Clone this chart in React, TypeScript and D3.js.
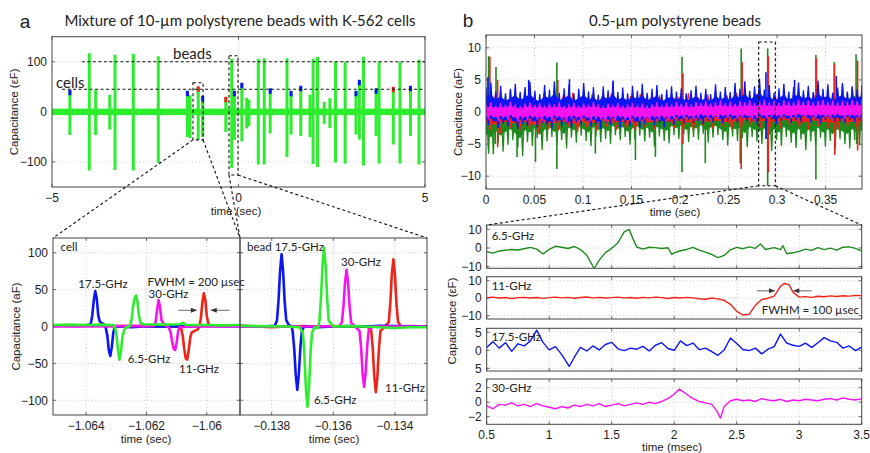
import { useEffect, useRef } from "react";
import * as d3 from "d3";

const W = 870;
const H = 453;
const SANS = "'Liberation Sans', Arial, sans-serif";
const CAL = "Lato, 'Open Sans', sans-serif";

const GREEN_A = "#2eec2e";
const GREEN_B = "#1e8a1e";
const RED = "#ee2418";
const BLUE = "#0b16f2";
const MAGENTA = "#f414f0";

// ---- panel a, overview: one bipolar spike per particle ----
const evT = [-4.52, -4.0, -3.83, -3.45, -3.31, -2.82, -2.15, -1.37, -1.3, -1.08, -0.96, -0.34, -0.18, -0.11, 0.09, 0.22, 0.28, 0.53, 0.69, 0.85, 1.3, 1.41, 1.67, 1.92, 2.0, 2.12, 2.3, 2.45, 2.6, 2.86, 3.15, 3.24, 3.35, 3.69, 3.77, 4.15, 4.33, 4.61, 4.84];
const evUp = [42, 117, 44, 34, 114, 116, 111, 40, 33, 49, 30, 28, 106, 40, 56, 28, 24, 106, 107, 45, 107, 40, 50, 34, 106, 110, 20, 27, 100, 100, 40, 62, 110, 45, 100, 48, 100, 50, 104];
const evDown = [-46, -117, -46, -35, -116, -117, -102, -50, -52, -56, -50, -40, -112, -56, -59, -33, -28, -105, -105, -43, -90, -45, -48, -50, -104, -110, -24, -32, -101, -103, -45, -55, -107, -48, -103, -65, -103, -48, -105];
const evCap = ["b", "", "", "", "", "", "", "b", "", "r", "b", "r", "", "b", "b", "", "", "", "", "b", "", "b", "b", "", "", "", "", "", "", "", "b", "b", "", "b", "", "r", "", "b", ""];

const aTopXTicks = [-5, 0, 5];
const aTopYTicks = [-100, 0, 100];

// ---- panel a, zoomed events ----
const cellBlue = [[-1.0651, 0.5], [-1.0647, 1.5], [-1.0643, 0.8], [-1.064, 1.2], [-1.06385, 3], [-1.0638, 14], [-1.06375, 35], [-1.0637, 48], [-1.06365, 38], [-1.0636, 15], [-1.06355, 7], [-1.0635, 5], [-1.06345, 4], [-1.0634, 2], [-1.06335, -2], [-1.0633, -12], [-1.06325, -32], [-1.0632, -40], [-1.06315, -28], [-1.0631, -8], [-1.06305, -1], [-1.0629, 0], [-1.0625, -1], [-1.062, 0.5], [-1.0615, 0], [-1.061, 0.5], [-1.0605, 0], [-1.0601, 1], [-1.0595, 0.5], [-1.0589, 0.5]];
const cellGreen = [[-1.0651, 2], [-1.0645, 2.5], [-1.064, 2], [-1.0635, 2.5], [-1.0631, 2], [-1.06305, 0], [-1.063, -10], [-1.06295, -30], [-1.0629, -45], [-1.06285, -35], [-1.0628, -15], [-1.06275, -6], [-1.0627, -2], [-1.0626, 0], [-1.06255, 1], [-1.0625, 8], [-1.06245, 25], [-1.0624, 38], [-1.06235, 42], [-1.0623, 34], [-1.06225, 15], [-1.0622, 5], [-1.0621, 3], [-1.0615, 2.5], [-1.0609, 3], [-1.06078, 5], [-1.0607, 2], [-1.06, 2], [-1.0595, 1.5], [-1.0589, 2]];
const cellMagenta = [[-1.0651, 0], [-1.064, 0], [-1.063, 0.5], [-1.062, 0.5], [-1.06175, 1], [-1.0617, 5], [-1.06165, 22], [-1.0616, 36], [-1.06155, 26], [-1.0615, 8], [-1.0614, 2], [-1.0613, 0], [-1.06125, -2], [-1.0612, -8], [-1.06115, -20], [-1.0611, -30], [-1.06105, -32], [-1.061, -22], [-1.06095, -6], [-1.0609, -1], [-1.0605, 0], [-1.0595, 0], [-1.0589, 0]];
const cellRed = [[-1.0651, 1.5], [-1.0645, 1], [-1.064, 1.5], [-1.063, 0.5], [-1.062, 0.5], [-1.0612, 0], [-1.0609, -0.5], [-1.06085, -3], [-1.0608, -12], [-1.06075, -30], [-1.0607, -43], [-1.06065, -45], [-1.0606, -32], [-1.06055, -15], [-1.0605, -8], [-1.0604, -6], [-1.0603, -4], [-1.06025, 0], [-1.0602, 10], [-1.06015, 32], [-1.0601, 45], [-1.06005, 36], [-1.06, 14], [-1.05995, 4], [-1.0599, 1], [-1.0595, 1.5], [-1.0592, 1], [-1.0589, 1.5]];

const beadBlue = [[-0.13903, 0.5], [-0.1383, 0], [-0.1379, 1], [-0.13783, 8], [-0.13778, 35], [-0.13773, 75], [-0.13768, 98], [-0.13763, 74], [-0.13758, 34], [-0.13753, 9], [-0.13745, 2], [-0.13735, 0], [-0.13732, -7], [-0.13727, -30], [-0.13722, -66], [-0.13717, -86], [-0.13712, -64], [-0.13707, -28], [-0.13702, -6], [-0.13695, 0], [-0.1365, -1], [-0.136, 0], [-0.1355, 0.5], [-0.135, 0], [-0.1345, 1], [-0.134, 0.5], [-0.13296, 0]];
const beadGreen = [[-0.13903, 1], [-0.1385, 0.5], [-0.1375, 0], [-0.1371, -1], [-0.13699, -8], [-0.13694, -38], [-0.13689, -84], [-0.13684, -109], [-0.13679, -82], [-0.13674, -36], [-0.13669, -8], [-0.1366, -1], [-0.1365, -2], [-0.13645, 8], [-0.1364, 40], [-0.13635, 84], [-0.1363, 107], [-0.13625, 82], [-0.1362, 38], [-0.13615, 8], [-0.136, 0], [-0.1355, 0.5], [-0.135, 0], [-0.1345, -1], [-0.134, -2], [-0.1335, -1], [-0.13296, -1]];
const beadMagenta = [[-0.13903, 0], [-0.1365, 0], [-0.1358, 0.5], [-0.13572, 6], [-0.13567, 28], [-0.13562, 60], [-0.13557, 77], [-0.13552, 58], [-0.13547, 26], [-0.13542, 5], [-0.1353, 0], [-0.13515, -6], [-0.1351, -28], [-0.13505, -64], [-0.135, -82], [-0.13495, -62], [-0.1349, -26], [-0.13485, -5], [-0.1347, 0], [-0.13296, 0]];
const beadRed = [[-0.13903, 1], [-0.1385, 0], [-0.138, -1], [-0.1375, 0], [-0.137, 0.5], [-0.1365, 0], [-0.136, 0.5], [-0.1355, 0], [-0.1349, 0], [-0.13477, -6], [-0.13472, -30], [-0.13467, -68], [-0.13462, -89], [-0.13457, -68], [-0.13452, -30], [-0.13447, -6], [-0.13435, -1], [-0.1342, 6], [-0.13415, 32], [-0.1341, 72], [-0.13405, 91], [-0.134, 70], [-0.13395, 30], [-0.1339, 6], [-0.1338, 0], [-0.1335, 0.5], [-0.13296, 0]];

const cellXTicks = [-1.064, -1.062, -1.06];
const beadXTicks = [-0.138, -0.136, -0.134];
const zoomYTicks = [-100, -50, 0, 50, 100];

// ---- panel b, 0.5 um beads: noise envelopes (aF) sampled evenly over the record ----
const blueHi = [3.8, 4.6, 3.2, 4.1, 2.9, 3.6, 4.4, 3.1, 3.9, 4.7, 3.3, 2.8, 4.2, 3.5, 4.8, 3.0, 3.7, 4.3, 2.9, 3.6, 4.5, 3.2, 3.9, 2.7, 4.0, 3.4, 4.6, 3.1, 3.8, 2.9, 4.1, 3.3, 4.4, 3.0, 3.6, 4.2, 2.8, 3.5, 4.0, 3.2, 3.7, 2.9, 3.4, 4.1, 3.0, 3.6, 2.8, 4.3, 3.2, 3.9, 3.1, 4.5, 3.6, 4.8, 3.3, 4.0, 5.2, 3.5, 4.2, 3.0, 3.7, 4.4, 3.2, 3.9, 4.6, 3.4, 4.1, 3.1, 4.9, 3.6, 4.3, 3.0, 3.8, 4.5, 3.2, 4.0, 3.5, 4.2];
const blueLo = [-2.1, -1.6, -2.5, -1.8, -2.3, -1.4, -2.7, -1.9, -2.2, -1.5, -2.4, -1.7, -2.0, -2.6, -1.5, -2.2, -1.8, -2.5, -1.6, -2.1, -1.4, -2.3, -1.9, -2.6, -1.7, -2.0, -1.5, -2.4, -1.8, -2.2, -1.6, -2.5, -1.9, -1.4, -2.1, -1.7, -2.4, -1.5, -2.0, -1.3, -1.8, -1.2, -1.7, -1.4, -1.9, -1.3, -1.6, -1.1, -1.8, -1.4, -1.2, -1.7, -1.0, -1.5, -1.3, -1.8, -1.1, -1.6, -1.2, -1.9, -1.4, -1.1, -1.7, -1.3, -1.5, -1.0, -1.6, -1.2, -1.8, -1.3, -1.1, -1.5, -1.4, -1.7, -1.2, -1.6, -1.3, -1.5];
const greenHi = [2.6, 3.4, 2.2, 3.0, 2.5, 3.3, 2.1, 2.8, 3.5, 2.4, 2.9, 2.2, 3.1, 2.6, 3.6, 2.3, 2.8, 3.2, 2.1, 2.7, 3.4, 2.5, 2.9, 2.2, 3.1, 2.6, 3.3, 2.4, 2.8, 2.1, 3.0, 2.5, 3.2, 2.3, 2.7, 3.1, 2.2, 2.6, 2.9, 2.4, 2.8, 2.1, 2.6, 3.0, 2.3, 2.7, 2.2, 3.1, 2.5, 2.9, 2.4, 3.2, 2.7, 3.4, 2.5, 3.0, 3.6, 2.6, 3.1, 2.4, 2.9, 3.3, 2.6, 3.0, 3.5, 2.7, 3.2, 2.5, 3.6, 2.8, 3.9, 2.6, 3.4, 4.2, 2.9, 3.8, 4.4, 3.6];
const greenLo = [-5.8, -6.6, -4.9, -6.2, -5.1, -4.4, -5.6, -6.9, -4.7, -5.3, -4.1, -5.9, -4.6, -3.9, -5.2, -4.4, -5.7, -4.0, -4.8, -3.7, -4.5, -5.3, -3.9, -4.7, -4.2, -5.0, -3.6, -4.4, -3.9, -5.1, -4.3, -3.7, -4.6, -4.0, -5.4, -3.8, -4.5, -4.9, -3.6, -4.2, -3.5, -4.7, -3.9, -4.3, -3.4, -4.8, -4.0, -3.6, -4.4, -5.2, -3.8, -4.5, -4.1, -5.5, -3.9, -4.6, -5.0, -4.2, -6.1, -4.4, -5.3, -3.9, -4.8, -5.6, -4.3, -5.9, -4.6, -5.1, -4.0, -5.4, -4.5, -5.8, -4.2, -5.0, -5.7, -4.4, -5.2, -4.8];
const redHi = [2.4, 2.9, 2.1, 2.7, 3.1, 2.3, 2.8, 2.0, 2.6, 3.0, 2.2, 2.7, 2.4, 2.9, 2.1, 2.5, 2.8, 2.2, 2.6, 2.0, 2.4, 2.9, 2.3, 2.7, 2.1, 2.6, 3.0, 2.4, 2.8, 2.2, 2.7, 2.5, 3.1, 2.3, 2.8, 2.6, 3.0, 2.4, 2.9, 2.7];
const redLo = [-2.8, -3.3, -2.5, -3.0, -2.6, -3.4, -2.7, -2.9, -2.4, -3.1, -2.6, -2.9, -2.3, -2.8, -2.5, -3.0, -2.4, -2.7, -2.2, -2.6, -2.3, -2.8, -2.1, -2.5, -2.2, -2.7, -2.4, -2.0, -2.5, -2.3, -2.6, -2.1, -2.4, -2.7, -2.2, -2.5, -2.8, -2.3, -2.6, -2.4];
const magHi = [1.2, 1.5, 1.0, 1.4, 1.1, 1.6, 1.2, 0.9, 1.3, 1.5, 1.1, 1.4, 1.0, 1.3, 1.2, 1.5, 0.9, 1.2, 1.4, 1.0, 1.3, 1.1, 1.5, 1.2, 0.9, 1.3, 1.1, 1.4, 1.0, 1.2, 1.4, 1.1, 1.3, 1.0, 1.2, 1.5, 1.1, 1.4, 1.2, 1.6, 1.3, 1.5, 1.2, 1.6, 1.4, 1.7, 1.3, 1.5, 1.8, 1.4, 1.6, 1.3, 1.7, 1.5, 1.8, 1.4, 1.6, 1.9, 1.5, 1.7, 1.4, 1.8, 1.6, 1.5, 1.9, 1.6, 1.8, 1.5, 1.7, 1.9, 1.6, 1.8, 1.5, 1.7, 1.6, 1.9, 1.7, 1.8];
const magLo = [-1.2, -0.9, -1.4, -1.0, -1.3, -0.8, -1.5, -1.1, -1.3, -0.9, -1.2, -1.4, -1.0, -1.3, -0.9, -1.2, -1.5, -1.1, -1.0, -1.3, -0.9, -1.4, -1.1, -1.2, -1.5, -1.0, -1.3, -0.9, -1.2, -1.4, -1.0, -1.3, -1.1, -1.4, -0.9, -1.2, -1.0, -1.3, -1.1, -0.8, -1.0, -0.7, -1.1, -0.9, -0.6, -1.0, -0.8, -1.1, -0.7, -0.9, -0.6, -1.0, -0.8, -0.7, -1.1, -0.9, -0.6, -1.0, -0.8, -0.7, -0.9, -0.6, -1.0, -0.8, -0.5, -0.9, -0.7, -1.0, -0.6, -0.8, -0.9, -0.7, -0.6, -1.0, -0.8, -0.7, -0.9, -0.6];
const greenSpikes = [[0.0027, 8.7], [0.0027, -6.5], [0.0103, 7.0], [0.0096, -5], [0.032, -7], [0.051, -7.8], [0.073, 7.7], [0.073, -8.9], [0.1127, -6.5], [0.154, -7.5], [0.1746, -7], [0.202, 8.6], [0.202, -9.4], [0.226, -8], [0.263, 9.9], [0.262, -8], [0.2903, 9.9], [0.2903, -11.5], [0.34, 8.9], [0.34, -10.5], [0.359, 7.8], [0.3814, 9], [0.382, -5]];
const redSpikes = [[0.004, 8.6], [0.012, 5], [0.012, -5.5], [0.074, 5], [0.203, 6], [0.203, -5], [0.264, 7.8], [0.263, -8.9], [0.291, 8.7], [0.291, -9.4], [0.3405, 8.4], [0.359, 7.5], [0.3595, -6.7], [0.383, 8], [0.383, -6]];
const blueSpikes = [[0.002, 5.4], [0.044, 5.0], [0.086, 5.1], [0.131, 4.9], [0.2885, 6.2], [0.2885, -4.2], [0.318, 5.0], [0.361, 5.6]];
const bTopXTicks = [0, 0.05, 0.1, 0.15, 0.2, 0.25, 0.3, 0.35];
const bTopYTicks = [-10, -5, 0, 5, 10];

// ---- panel b, one event per channel (time in msec, aF) ----
const ch65 = [[0.5, -2], [0.55, -2.8], [0.6, -1.6], [0.65, -1.2], [0.7, -0.8], [0.75, -1.1], [0.8, -0.4], [0.85, 0.3], [0.9, -0.6], [0.95, -3.2], [1.0, -0.8], [1.05, 0.9], [1.1, 0.4], [1.15, -0.3], [1.2, 0.8], [1.25, -0.9], [1.3, -3.8], [1.33, -7.5], [1.36, -11], [1.4, -6.5], [1.45, -2.5], [1.5, -0.2], [1.55, 2.8], [1.6, 8.6], [1.64, 9.9], [1.67, 5], [1.7, 0.5], [1.75, -0.6], [1.8, 0.4], [1.85, 0.2], [1.9, -0.3], [1.95, 0.1], [1.98, -3.4], [2.0, -2.6], [2.05, -1.5], [2.1, -0.8], [2.15, 0.3], [2.2, -1.2], [2.25, -2.2], [2.3, -3.5], [2.35, -5.2], [2.4, -4.0], [2.45, -1.0], [2.5, 0.3], [2.55, -0.4], [2.6, 0.6], [2.65, -0.2], [2.69, 2.1], [2.73, -0.8], [2.8, 0.2], [2.85, -0.9], [2.87, 1.2], [2.9, -3.1], [2.95, -2.6], [3.0, -1.8], [3.05, -0.6], [3.1, -1.3], [3.15, 0.2], [3.2, -0.9], [3.25, -0.1], [3.3, -1.2], [3.35, 0.4], [3.4, 0.6], [3.45, -0.2], [3.5, -1.6]];
const ch11 = [[0.5, 0.3], [0.55, 0.6], [0.6, 0.1], [0.65, 0.4], [0.7, -0.2], [0.75, 0.3], [0.8, 0.5], [0.85, 0.1], [0.9, 0.4], [0.95, -0.1], [1.0, 0.3], [1.05, 0.6], [1.1, 0.2], [1.15, 0.5], [1.2, 0.0], [1.25, 0.4], [1.3, 0.7], [1.35, 0.2], [1.4, 0.5], [1.45, 0.1], [1.5, 0.3], [1.55, 0.6], [1.6, 0.2], [1.65, 0.4], [1.7, 0.0], [1.75, 0.5], [1.8, 0.2], [1.85, 0.6], [1.9, 0.3], [1.95, -0.2], [2.0, 0.4], [2.05, 0.1], [2.1, 0.5], [2.15, 0.2], [2.2, -0.3], [2.25, -0.6], [2.3, 0.1], [2.35, -0.4], [2.4, -1.2], [2.45, -3.5], [2.5, -7.5], [2.55, -9.6], [2.6, -9.2], [2.65, -4.0], [2.7, -0.8], [2.75, 0.0], [2.8, 1.2], [2.85, 6.8], [2.88, 8.4], [2.92, 7.6], [2.95, 3.5], [3.0, 0.6], [3.05, 0.9], [3.1, 0.5], [3.15, 1.1], [3.2, 0.8], [3.25, 1.3], [3.3, 1.0], [3.35, 1.4], [3.4, 1.2], [3.45, 1.6], [3.5, 1.5]];
const ch175 = [[0.5, 0.8], [0.55, 2.4], [0.6, 0.6], [0.65, 2.1], [0.7, -0.3], [0.75, 1.8], [0.8, 1.2], [0.85, 2.6], [0.9, 5.6], [0.95, 2.2], [1.0, 0.1], [1.05, 1.0], [1.1, -1.2], [1.16, -4.5], [1.2, -2.0], [1.25, 0.8], [1.3, -0.2], [1.35, 1.2], [1.4, 0.1], [1.45, 1.6], [1.5, 2.2], [1.55, 0.4], [1.6, -0.1], [1.65, 0.6], [1.7, 0.3], [1.75, 1.1], [1.8, -0.2], [1.85, 1.4], [1.9, 2.1], [1.95, 0.5], [2.0, 0.0], [2.05, 2.6], [2.1, 1.3], [2.15, 2.0], [2.2, 0.2], [2.25, 0.6], [2.3, -0.4], [2.35, -1.4], [2.4, 0.1], [2.45, 3.4], [2.5, 1.9], [2.55, 0.2], [2.6, -0.1], [2.65, 0.6], [2.7, -1.0], [2.75, 0.3], [2.8, 1.0], [2.85, 4.5], [2.9, 2.0], [2.95, 1.4], [3.0, 1.1], [3.05, 2.0], [3.1, 0.8], [3.15, 2.1], [3.2, 3.5], [3.25, 2.6], [3.3, 2.2], [3.35, 0.6], [3.4, 1.2], [3.45, -0.1], [3.5, 0.9]];
const ch30 = [[0.5, -0.5], [0.55, -0.9], [0.6, -0.3], [0.65, -0.4], [0.7, -0.1], [0.75, -0.5], [0.8, -0.3], [0.85, -0.6], [0.9, -0.2], [0.95, -0.5], [1.0, -0.7], [1.05, -0.9], [1.1, -0.6], [1.15, -0.8], [1.2, -0.4], [1.25, -0.6], [1.3, -0.3], [1.35, -0.5], [1.4, -0.2], [1.45, -0.6], [1.5, -0.4], [1.55, -0.2], [1.6, -0.5], [1.65, -0.3], [1.7, -0.1], [1.75, -0.3], [1.8, 0.0], [1.85, -0.2], [1.9, 0.1], [1.95, 0.5], [2.0, 1.1], [2.04, 1.8], [2.1, 1.1], [2.15, 0.5], [2.2, 0.1], [2.25, -0.1], [2.3, -0.3], [2.34, -1.2], [2.37, -2.2], [2.4, -0.6], [2.45, 0.2], [2.5, 0.4], [2.55, 0.2], [2.6, 0.3], [2.65, 0.1], [2.7, 0.5], [2.75, 0.3], [2.8, 0.2], [2.85, 0.4], [2.9, 0.1], [2.95, 0.3], [3.0, 0.2], [3.05, 0.4], [3.1, 0.3], [3.15, 0.2], [3.2, 0.4], [3.25, 0.5], [3.3, 0.3], [3.35, 0.6], [3.4, 0.4], [3.45, 0.3], [3.5, 0.5]];
const msecTicks = [0.5, 1, 1.5, 2, 2.5, 3, 3.5];

type Sel = d3.Selection<SVGGElement, unknown, null, undefined>;

function frame(g: Sel, x: any, y: any, xt: number[], yt: number[], xLab: boolean, yLab: boolean, yText?: string[]) {
  const [x0, x1] = x.range();
  const [y0, y1] = y.range();
  const grid = g.append("g").attr("stroke", "#bdbdbd").attr("stroke-width", 0.8).attr("stroke-dasharray", "1,2.5");
  xt.forEach((t) => {
    const px = x(t);
    if (px > x0 + 1 && px < x1 - 1) grid.append("line").attr("x1", px).attr("x2", px).attr("y1", y0).attr("y2", y1);
  });
  yt.forEach((v) => {
    const py = y(v);
    if (py < y0 - 1 && py > y1 + 1) grid.append("line").attr("x1", x0).attr("x2", x1).attr("y1", py).attr("y2", py);
  });
  const tk = g.append("g").attr("stroke", "#444").attr("stroke-width", 0.8);
  xt.forEach((t) => {
    tk.append("line").attr("x1", x(t)).attr("x2", x(t)).attr("y1", y0).attr("y2", y0 - 3);
    tk.append("line").attr("x1", x(t)).attr("x2", x(t)).attr("y1", y1).attr("y2", y1 + 3);
  });
  yt.forEach((v) => {
    tk.append("line").attr("x1", x0).attr("x2", x0 + 3).attr("y1", y(v)).attr("y2", y(v));
    tk.append("line").attr("x1", x1).attr("x2", x1 - 3).attr("y1", y(v)).attr("y2", y(v));
  });
  const fmt = d3.format("");
  if (xLab) {
    g.append("g").selectAll("text").data(xt).join("text")
      .attr("x", (d) => x(d)).attr("y", y0 + 14.5).attr("text-anchor", "middle")
      .attr("font-family", SANS).attr("font-size", 12).attr("fill", "#222").text((d) => fmt(d));
  }
  if (yLab) {
    g.append("g").selectAll("text").data(yt).join("text")
      .attr("x", x0 - 5).attr("y", (d) => y(d) + 4.3).attr("text-anchor", "end")
      .attr("font-family", SANS).attr("font-size", 12).attr("fill", "#222")
      .text((d, i) => (yText ? yText[i] : fmt(d)));
  }
}

function box(g: Sel, x: any, y: any) {
  const [x0, x1] = x.range();
  const [y0, y1] = y.range();
  g.append("rect").attr("x", x0).attr("y", y1).attr("width", x1 - x0).attr("height", y0 - y1)
    .attr("fill", "none").attr("stroke", "#444").attr("stroke-width", 1);
}

function clip(svg: any, id: string, x: any, y: any) {
  const [x0, x1] = x.range();
  const [y0, y1] = y.range();
  svg.append("clipPath").attr("id", id).append("rect").attr("x", x0).attr("y", y1).attr("width", x1 - x0).attr("height", y0 - y1);
}

function label(g: Sel, px: number, py: number, txt: string, size: number, family: string, anchor = "start", rot = false) {
  const t = g.append("text").attr("font-family", family).attr("font-size", size).attr("fill", "#222").attr("text-anchor", anchor).text(txt);
  if (rot) t.attr("transform", `translate(${px},${py}) rotate(-90)`);
  else t.attr("x", px).attr("y", py);
}

function arrows(g: Sel, x: any, y: any, v: number, a0: number, a1: number, b0: number, b1: number) {
  const ag = g.append("g").attr("stroke", "#666").attr("fill", "#333").attr("stroke-width", 1);
  [[a0, a1], [b0, b1]].forEach(([s, e]) => {
    const dir = Math.sign(x(e) - x(s));
    ag.append("line").attr("x1", x(s)).attr("x2", x(e)).attr("y1", y(v)).attr("y2", y(v));
    ag.append("path").attr("stroke", "none")
      .attr("d", `M${x(e)},${y(v)} L${x(e) - dir * 6},${y(v) - 2.5} L${x(e) - dir * 6},${y(v) + 2.5} Z`);
  });
}

export default function App() {
  const ref = useRef<SVGSVGElement>(null);

  useEffect(() => {
    const svg = d3.select(ref.current);
    svg.selectAll("*").remove();
    const root = svg.append("g") as any as Sel;
    const defs = svg.append("defs");
    const line = d3.line<number[]>();
    const AN = 11.5;
    const AX = 11.5;

    // ================= panel a, overview =================
    const xA = d3.scaleLinear().domain([-5, 5]).range([52, 425]);
    const yA = d3.scaleLinear().domain([-150, 150]).range([187, 36.7]);
    label(root, 25, 28, "a", 19, SANS, "middle");
    label(root, 240, 26, "Mixture of 10-µm polystyrene beads with K-562 cells", 15, CAL, "middle");
    frame(root, xA, yA, aTopXTicks, aTopYTicks, true, true);
    clip(defs, "cA", xA, yA);
    const gA = root.append("g").attr("clip-path", "url(#cA)");
    gA.append("rect").attr("x", xA(-5)).attr("width", xA(5) - xA(-5)).attr("y", yA(6.5)).attr("height", yA(-6.5) - yA(6.5)).attr("fill", GREEN_A);
    gA.selectAll("line.ev").data(evT).join("line")
      .attr("x1", (d) => xA(d)).attr("x2", (d) => xA(d))
      .attr("y1", (d, i) => yA(evUp[i])).attr("y2", (d, i) => yA(evDown[i]))
      .attr("stroke", GREEN_A).attr("stroke-width", 3);
    gA.selectAll("line.cap").data(evT.filter((d, i) => evCap[i])).join("line")
      .attr("x1", (d) => xA(d)).attr("x2", (d) => xA(d))
      .attr("y1", (d) => yA(evUp[evT.indexOf(d)] + 2)).attr("y2", (d) => yA(evUp[evT.indexOf(d)] - 9))
      .attr("stroke", (d) => (evCap[evT.indexOf(d)] === "b" ? BLUE : RED)).attr("stroke-width", 3);
    box(root, xA, yA);
    const dash = root.append("g").attr("stroke", "#111").attr("stroke-width", 1.1).attr("stroke-dasharray", "3,2.5").attr("fill", "none");
    dash.append("line").attr("x1", xA(-4.2)).attr("x2", xA(5)).attr("y1", yA(100)).attr("y2", yA(100));
    dash.append("line").attr("x1", xA(-4.73)).attr("x2", xA(5)).attr("y1", yA(45)).attr("y2", yA(45));
    label(root, xA(-1.756), yA(106), "beads", 15, CAL);
    label(root, xA(-4.89), yA(47), "cells", 15, CAL);
    dash.append("rect").attr("x", xA(-1.22)).attr("y", yA(58)).attr("width", xA(-0.95) - xA(-1.22)).attr("height", yA(-56) - yA(58));
    dash.append("rect").attr("x", xA(-0.255)).attr("y", yA(112)).attr("width", xA(-0.013) - xA(-0.255)).attr("height", yA(-126) - yA(112));
    label(root, 236, 215, "time (sec)", AX, SANS, "middle");
    label(root, 18, yA(0), "Capacitance (εF)", AX, SANS, "middle", true);

    // ================= panel a, zoomed events =================
    const yZ = d3.scaleLinear().domain([-120, 120]).range([415, 238]);
    const xC = d3.scaleLinear().domain([-1.0651, -1.0589]).range([53, 240]);
    const xB = d3.scaleLinear().domain([-0.13903, -0.13296]).range([240, 427]);
    frame(root, xC, yZ, cellXTicks, zoomYTicks, true, true);
    frame(root, xB, yZ, beadXTicks, zoomYTicks, true, false);
    clip(defs, "cC", xC, yZ);
    clip(defs, "cB", xB, yZ);
    const gC = root.append("g").attr("clip-path", "url(#cC)").attr("fill", "none").attr("stroke-width", 2.6).attr("stroke-linejoin", "round");
    const lc = d3.line<number[]>().x((d) => xC(d[0])).y((d) => yZ(d[1]));
    [[cellRed, RED], [cellBlue, BLUE], [cellMagenta, MAGENTA], [cellGreen, GREEN_A]].forEach(([d, c]: any) => gC.append("path").attr("d", lc(d)).attr("stroke", c));
    const gB = root.append("g").attr("clip-path", "url(#cB)").attr("fill", "none").attr("stroke-width", 2.6).attr("stroke-linejoin", "round");
    const lb = d3.line<number[]>().x((d) => xB(d[0])).y((d) => yZ(d[1]));
    [[beadRed, RED], [beadBlue, BLUE], [beadMagenta, MAGENTA], [beadGreen, GREEN_A]].forEach(([d, c]: any) => gB.append("path").attr("d", lb(d)).attr("stroke", c));
    box(root, xC, yZ);
    box(root, xB, yZ);
    label(root, xC(-1.06485), yZ(101.9), "cell", AN, CAL);
    label(root, xC(-1.06426), yZ(52.8), "17.5-GHz", AN, CAL);
    label(root, xC(-1.06197), yZ(55.5), "FWHM = 200 µsec", AN, CAL);
    label(root, xC(-1.06193), yZ(39), "30-GHz", AN, CAL);
    label(root, xC(-1.06262), yZ(-49.5), "6.5-GHz", AN, CAL);
    label(root, xC(-1.06092), yZ(-63), "11-GHz", AN, CAL);
    arrows(root, xC, yZ, 22, -1.06095, -1.06033, -1.05925, -1.05987);
    label(root, xB(-0.1388), yZ(101.9), "bead 17.5-GHz", AN, CAL);
    label(root, xB(-0.13575), yZ(81.4), "30-GHz", AN, CAL);
    label(root, xB(-0.13432), yZ(-89), "11-GHz", AN, CAL);
    label(root, xB(-0.13663), yZ(-105.4), "6.5-GHz", AN, CAL);
    label(root, 146, 443, "time (sec)", AX, SANS, "middle");
    label(root, 334, 443, "time (sec)", AX, SANS, "middle");
    label(root, 20, yZ(0), "Capacitance (aF)", AX, SANS, "middle", true);
    // connectors from overview boxes
    dash.raise();
    dash.append("path").attr("d", line([[xA(-1.22), yA(-56)], [xC.range()[0], yZ.range()[1]]]));
    dash.append("path").attr("d", line([[xA(-0.95), yA(-56)], [xC.range()[1], yZ.range()[1]]]));
    dash.append("path").attr("d", line([[xA(-0.255), yA(-126)], [xB.range()[0], yZ.range()[1]]]));
    dash.append("path").attr("d", line([[xA(-0.013), yA(-126)], [xB.range()[1], yZ.range()[1]]]));

    // ================= panel b, overview =================
    const xT = d3.scaleLinear().domain([0, 0.3875]).range([486, 862]);
    const yT = d3.scaleLinear().domain([-12, 12]).range([189, 35]);
    label(root, 468, 27, "b", 19, SANS, "middle");
    label(root, 675, 26, "0.5-µm polystyrene beads", 15, CAL, "middle");
    frame(root, xT, yT, bTopXTicks, bTopYTicks, true, true);
    clip(defs, "cT", xT, yT);
    const gT = root.append("g").attr("clip-path", "url(#cT)");
    const band = (hi: number[], lo: number[], color: string, w: number) => {
      const idx = d3.scaleLinear().domain([0, hi.length - 1]).range(xT.domain());
      const half = (idx(1) - idx(0)) / 2;
      const area = d3.area<number>().x((d, i) => xT(idx(i))).y0((d, i) => yT(lo[i] * 0.6)).y1((d) => yT(d * 0.6));
      gT.append("path").attr("d", area(hi)).attr("fill", color);
      const zig: number[][] = [];
      hi.forEach((h, i) => {
        zig.push([xT(idx(i)), yT(h)]);
        zig.push([xT(idx(i) + half), yT(lo[i])]);
      });
      gT.append("path").attr("d", line(zig)).attr("fill", "none").attr("stroke", color).attr("stroke-width", w);
    };
    const spikes = (data: number[][], color: string) => {
      gT.append("g").selectAll("line").data(data).join("line")
        .attr("x1", (d) => xT(d[0])).attr("x2", (d) => xT(d[0])).attr("y1", yT(0)).attr("y2", (d) => yT(d[1]))
        .attr("stroke", color).attr("stroke-width", 1.6);
    };
    band(greenHi, greenLo, GREEN_B, 1.3);
    spikes(greenSpikes, GREEN_B);
    band(redHi, redLo, RED, 1.2);
    spikes(redSpikes, RED);
    band(blueHi, blueLo, BLUE, 1.3);
    spikes(blueSpikes, BLUE);
    band(magHi, magLo, MAGENTA, 1.4);
    box(root, xT, yT);
    label(root, 675, 215.5, "time (sec)", AX, SANS, "middle");
    label(root, 462, yT(0), "Capacitance (aF)", AX, SANS, "middle", true);
    const dashB = root.append("g").attr("stroke", "#111").attr("stroke-width", 1.1).attr("stroke-dasharray", "3,2.5").attr("fill", "none");
    dashB.append("rect").attr("x", xT(0.281)).attr("y", yT(10.9)).attr("width", xT(0.2982) - xT(0.281)).attr("height", yT(-11.5) - yT(10.9));

    // ================= panel b, per-channel traces =================
    const xM = d3.scaleLinear().domain([0.5, 3.5]).range([486.7, 861.7]);
    const subs: any[] = [
      { data: ch65, color: GREEN_B, dom: [-10.9, 12.3], rng: [268.3, 225], ticks: [-10, 0, 10], name: "6.5-GHz", lv: 4.4 },
      { data: ch11, color: RED, dom: [-11.9, 12.3], rng: [319, 276.7], ticks: [-10, 0, 10], name: "11-GHz", lv: 4.5 },
      { data: ch175, color: BLUE, dom: [-5.75, 6.1], rng: [371, 328.3], ticks: [-5, 0, 5], text: ["5", "0", "5"], name: "17.5-GHz", lv: 2.6 },
      { data: ch30, color: MAGENTA, dom: [-3.05, 3.2], rng: [424.3, 379], ticks: [-2, 0, 2], name: "30-GHz", lv: 1.34 },
    ];
    subs.forEach((s, k) => {
      const yS = d3.scaleLinear().domain(s.dom).range(s.rng);
      frame(root, xM, yS, msecTicks, s.ticks, k === 3, true, s.text);
      clip(defs, `cS${k}`, xM, yS);
      const ls = d3.line<number[]>().x((d) => xM(d[0])).y((d) => yS(d[1]));
      root.append("g").attr("clip-path", `url(#cS${k})`).append("path").attr("d", ls(s.data))
        .attr("fill", "none").attr("stroke", s.color).attr("stroke-width", 1.4).attr("stroke-linejoin", "round");
      box(root, xM, yS);
      label(root, xM(0.54), yS(s.lv), s.name, AN, CAL);
      if (k === 1) {
        label(root, xM(2.7), yS(-9), "FWHM = 100 µsec", AN, CAL);
        arrows(root, xM, yS, 4.2, 2.66, 2.806, 3.1, 2.953);
      }
      if (k === 0) {
        dashB.append("path").attr("d", line([[xT(0.281), yT(-11.5)], [xM.range()[0], yS.range()[1]]]));
        dashB.append("path").attr("d", line([[xT(0.2982), yT(-11.5)], [xM.range()[1], yS.range()[1]]]));
      }
    });
    label(root, 672, 451, "time (msec)", AX, SANS, "middle");
    label(root, 456, 321, "Capacitance (εF)", AX, SANS, "middle", true);
    dashB.raise();
  }, []);

  return (
    <svg ref={ref} width={W} height={H} viewBox={`0 0 ${W} ${H}`}
      style={{ position: "absolute", left: 0, top: 0, background: "#fff" }} />
  );
}
